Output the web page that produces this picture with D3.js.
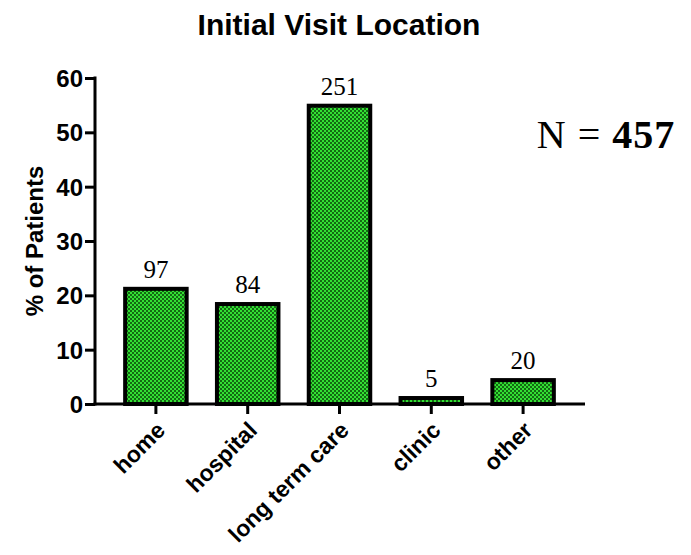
<!DOCTYPE html>
<html>
<head>
<meta charset="utf-8">
<script src="https://cdn.jsdelivr.net/npm/d3@7"></script>
<style>
  body { margin: 0; background: #fff; }
  svg { display: block; }
</style>
</head>
<body>
<svg width="691" height="555"></svg>
<script>
// data
const categories = ['home', 'hospital', 'long term care', 'clinic', 'other']
const percents = [21.2, 18.4, 54.9, 1.1, 4.4]
const counts = [97, 84, 251, 5, 20]
const yTicks = [0, 10, 20, 30, 40, 50, 60]
const totalN = 457

const svg = d3.select('svg')

// checker fill of the bars
const defs = svg.append('defs')
const pat = defs.append('pattern')
    .attr('id', 'checker')
    .attr('patternUnits', 'userSpaceOnUse')
    .attr('width', 4)
    .attr('height', 4)
pat.append('rect').attr('width', 4).attr('height', 4).attr('fill', '#33e033')
pat.append('rect').attr('width', 2).attr('height', 2).attr('fill', '#136a13')
pat.append('rect').attr('x', 2).attr('y', 2).attr('width', 2).attr('height', 2).attr('fill', '#136a13')

let x = d3.scaleBand()
    .domain(categories)
    .range([110, 569])
    .paddingInner(0.33)
    .paddingOuter(0.165)
let y = d3.scaleLinear()
    .domain([0, 60])
    .range([404, 78])

// title
svg.append('text')
    .attr('x', 339)
    .attr('y', 35)
    .attr('text-anchor', 'middle')
    .style('font-family', 'Liberation Sans, Arial, sans-serif')
    .style('font-weight', 'bold')
    .style('font-size', '30px')
    .text('Initial Visit Location')

// bars
svg.selectAll('.bar')
    .data(percents)
    .enter()
    .append('rect')
    .attr('class', 'bar')
    .attr('x', (d, i) => x(categories[i]))
    .attr('y', d => y(d))
    .attr('width', x.bandwidth())
    .attr('height', d => y(0) - y(d))
    .attr('fill', 'url(#checker)')
    .attr('stroke', '#000')
    .attr('stroke-width', 4)

// count labels
svg.selectAll('.count')
    .data(counts)
    .enter()
    .append('text')
    .attr('class', 'count')
    .attr('x', (d, i) => x(categories[i]) + x.bandwidth() / 2)
    .attr('y', (d, i) => y(percents[i]) - 11)
    .attr('text-anchor', 'middle')
    .style('font-family', 'Liberation Serif, Times New Roman, serif')
    .style('font-size', '25px')
    .text(d => d)

// y axis
let yAxis = d3.axisLeft(y)
    .tickValues(yTicks)
    .tickSize(10)
    .tickPadding(2)
let gy = svg.append('g')
    .attr('transform', 'translate(95,0)')
    .call(yAxis)
gy.select('.domain').attr('stroke', '#000').attr('stroke-width', 3).attr('d', `M0,${y(60) - 1.5}V${y(0) + 1.5}`)
gy.selectAll('.tick line').attr('stroke', '#000').attr('stroke-width', 3)
gy.selectAll('.tick text')
    .style('font-family', 'Liberation Sans, Arial, sans-serif')
    .style('font-weight', 'bold')
    .style('font-size', '24px')
    .attr('fill', '#000')
    .attr('dy', '0.35em')

// x axis
let xAxis = d3.axisBottom(x)
    .tickSize(10)
    .tickPadding(6)
let gx = svg.append('g')
    .attr('transform', `translate(0,${y(0)})`)
    .call(xAxis)
gx.select('.domain').attr('stroke', '#000').attr('stroke-width', 3).attr('d', 'M93.5,0H585')
gx.selectAll('.tick line').attr('stroke', '#000').attr('stroke-width', 3)
gx.selectAll('.tick text')
    .style('font-family', 'Liberation Sans, Arial, sans-serif')
    .style('font-weight', 'bold')
    .style('font-size', '23px')
    .attr('fill', '#000')
    .attr('text-anchor', 'end')
    .attr('dy', '0.35em')
    .attr('transform', 'translate(5,22) rotate(-45)')
    .attr('y', 0)

// y axis title
svg.append('text')
    .attr('transform', 'translate(43,241) rotate(-90)')
    .attr('text-anchor', 'middle')
    .style('font-family', 'Liberation Sans, Arial, sans-serif')
    .style('font-weight', 'bold')
    .style('font-size', '24px')
    .text('% of Patients')

// N annotation
let nText = svg.append('text')
    .attr('x', 606)
    .attr('y', 148)
    .attr('text-anchor', 'middle')
    .style('font-family', 'Liberation Serif, Times New Roman, serif')
    .style('font-size', '40px')
    .style('letter-spacing', '1px')
nText.append('tspan').text('N = ')
nText.append('tspan').style('font-weight', 'bold').text(totalN)
</script>
</body>
</html>
